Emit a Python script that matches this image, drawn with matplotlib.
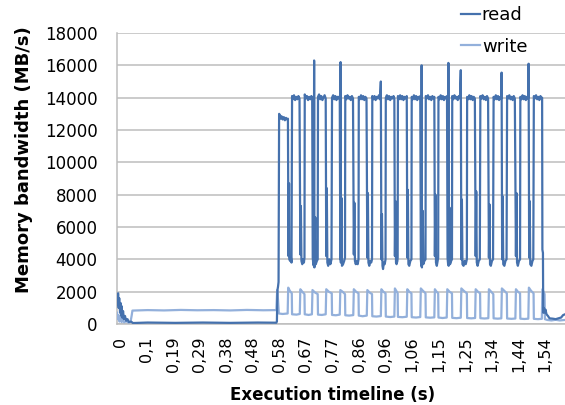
import numpy as np
import matplotlib
matplotlib.use("Agg")
import matplotlib.pyplot as plt

# Memory bandwidth trace: (time in s, MB/s)
read_idle = [
    (-0.011, 1800), (-0.009, 1200), (-0.007, 1900), (-0.005, 1000), (-0.003, 1600),
    (0.000, 700), (0.002, 1300), (0.004, 500), (0.006, 1100), (0.008, 400),
    (0.011, 800), (0.014, 300), (0.018, 500), (0.022, 200), (0.027, 300),
    (0.032, 120), (0.040, 150), (0.047, 60), (0.100, 90), (0.200, 70),
    (0.300, 90), (0.400, 70), (0.500, 90), (0.567, 80), (0.569, 160),
    (0.571, 2100), (0.573, 2300), (0.575, 2600),
]
read_burst = [
    # cycle 1
    (0.577, 13000), (0.580, 12900), (0.583, 12700), (0.586, 12850), (0.590, 12650),
    (0.594, 12800), (0.598, 12600), (0.602, 12750), (0.606, 12650), (0.609, 12700),
    (0.611, 4200), (0.613, 8700), (0.614, 4000), (0.617, 3900), (0.620, 4100), (0.622, 3800),
    # cycle 2
    (0.624, 14100), (0.627, 13900), (0.631, 14150), (0.635, 13850), (0.639, 14050),
    (0.643, 13900), (0.647, 14100), (0.651, 13950),
    (0.654, 4300), (0.656, 7300), (0.658, 3900), (0.661, 3700), (0.664, 4000), (0.667, 3800), (0.669, 4100),
    # cycle 3
    (0.670, 14200), (0.674, 13950), (0.678, 14100), (0.682, 13850), (0.686, 14050),
    (0.690, 13900), (0.694, 14100), (0.697, 14000),
    (0.699, 4100), (0.701, 3700), (0.703, 3600), (0.704, 16300), (0.705, 3500),
    (0.708, 6600), (0.710, 3700), (0.714, 3900), (0.717, 4000),
    # cycle 4
    (0.718, 14050), (0.722, 14200), (0.726, 13900), (0.730, 14100), (0.734, 13850),
    (0.738, 14000), (0.742, 14150), (0.746, 13950),
    (0.748, 4200), (0.750, 8400), (0.752, 3800), (0.755, 3600), (0.759, 4000), (0.763, 3700), (0.767, 4000),
    # cycle 5
    (0.769, 14000), (0.773, 14150), (0.777, 13900), (0.781, 14100), (0.785, 13850),
    (0.789, 14050), (0.793, 13950), (0.797, 14100),
    (0.799, 4000), (0.800, 16200), (0.801, 3800), (0.803, 7800), (0.805, 3600),
    (0.809, 3700), (0.813, 3900), (0.816, 4100),
    # cycle 6
    (0.817, 14100), (0.821, 13900), (0.825, 14150), (0.829, 13950), (0.833, 14050),
    (0.837, 13850), (0.841, 14100), (0.845, 13950),
    (0.848, 4300), (0.850, 7500), (0.852, 3900), (0.855, 3700), (0.859, 3900), (0.862, 3700), (0.865, 4000),
    # cycle 7
    (0.866, 14050), (0.870, 13900), (0.874, 14150), (0.878, 13900), (0.882, 14100),
    (0.886, 13850), (0.890, 14050), (0.894, 13950),
    (0.897, 4100), (0.899, 8100), (0.901, 3800), (0.904, 3600), (0.908, 3900), (0.911, 3800), (0.914, 4000),
    # cycle 8
    (0.915, 14100), (0.919, 13900), (0.923, 14100), (0.927, 13850), (0.931, 14050),
    (0.935, 13950), (0.939, 14150), (0.943, 13900), (0.946, 15000),
    (0.948, 4000), (0.950, 6800), (0.952, 3600), (0.954, 3400), (0.957, 3800), (0.960, 3700), (0.963, 4000),
    # cycle 9
    (0.964, 14000), (0.968, 14150), (0.972, 13900), (0.976, 14100), (0.980, 13850),
    (0.984, 14050), (0.988, 13950), (0.992, 14100), (0.995, 13950),
    (0.997, 4200), (0.999, 7600), (1.001, 3800), (1.003, 3700), (1.006, 3900), (1.007, 4100),
    # cycle 10
    (1.008, 14100), (1.012, 13900), (1.016, 14150), (1.020, 13900), (1.024, 14100),
    (1.028, 13850), (1.032, 14050), (1.036, 13950), (1.040, 14100),
    (1.042, 4100), (1.044, 8300), (1.046, 3700), (1.049, 3600), (1.053, 3900), (1.057, 4000),
    # cycle 11
    (1.058, 14050), (1.062, 13900), (1.066, 14150), (1.070, 13900), (1.074, 14100),
    (1.078, 13850), (1.082, 14050), (1.086, 13950), (1.089, 14100),
    (1.091, 4000), (1.093, 3600), (1.094, 16000), (1.095, 3500), (1.098, 7000),
    (1.100, 3700), (1.104, 3900), (1.108, 4000),
    # cycle 12
    (1.109, 14100), (1.113, 13950), (1.117, 14150), (1.121, 13900), (1.125, 14050),
    (1.129, 13850), (1.133, 14100), (1.137, 13950), (1.140, 14050),
    (1.142, 4200), (1.144, 8000), (1.146, 3800), (1.149, 3600), (1.152, 3900), (1.154, 4100),
    # cycle 13
    (1.155, 14050), (1.159, 13900), (1.163, 14150), (1.167, 13900), (1.171, 14100),
    (1.175, 13850), (1.179, 14050), (1.183, 13950), (1.186, 14100),
    (1.188, 4100), (1.190, 3700), (1.191, 16150), (1.192, 3600), (1.195, 7200),
    (1.197, 3700), (1.201, 3900), (1.204, 4000),
    # cycle 14
    (1.205, 14100), (1.209, 13900), (1.213, 14150), (1.217, 13950), (1.221, 14050),
    (1.225, 13850), (1.229, 14100), (1.233, 13950), (1.236, 15700),
    (1.238, 4000), (1.240, 7700), (1.242, 3700), (1.246, 3600), (1.250, 3900), (1.254, 3700), (1.258, 4000),
    # cycle 15
    (1.259, 14050), (1.263, 13900), (1.267, 14150), (1.271, 13900), (1.275, 14100),
    (1.279, 13850), (1.283, 14050), (1.287, 13950),
    (1.290, 4200), (1.292, 8200), (1.294, 3800), (1.297, 3600), (1.301, 3900), (1.305, 4000),
    # cycle 16
    (1.307, 14100), (1.311, 13950), (1.315, 14150), (1.319, 13900), (1.323, 14050),
    (1.327, 13850), (1.331, 14100), (1.335, 13950),
    (1.338, 4100), (1.340, 7400), (1.342, 3700), (1.345, 3600), (1.349, 3900), (1.353, 4000),
    # cycle 17
    (1.355, 14050), (1.359, 13900), (1.363, 14150), (1.367, 13900), (1.371, 14100),
    (1.375, 13850), (1.379, 14050), (1.383, 13950), (1.384, 15550),
    (1.386, 4000), (1.388, 7900), (1.390, 3700), (1.394, 3600), (1.398, 3900), (1.402, 4000),
    # cycle 18
    (1.404, 14100), (1.408, 13950), (1.412, 14150), (1.416, 13900), (1.420, 14050),
    (1.424, 13850), (1.428, 14100), (1.432, 13950),
    (1.436, 4200), (1.438, 8100), (1.440, 3800), (1.443, 3600), (1.447, 3900), (1.451, 4000),
    # cycle 19
    (1.452, 14050), (1.456, 13900), (1.460, 14150), (1.464, 13900), (1.468, 14100),
    (1.472, 13850), (1.476, 14050), (1.480, 13950), (1.482, 16100),
    (1.484, 4100), (1.486, 7600), (1.488, 3700), (1.492, 3600), (1.496, 3900), (1.499, 4000),
    # cycle 20
    (1.501, 14100), (1.505, 13950), (1.509, 14150), (1.513, 13900), (1.517, 14050),
    (1.521, 13850), (1.525, 14100), (1.529, 13950), (1.531, 14000),
]
read_tail = [
    (1.532, 4600), (1.534, 4400), (1.535, 700), (1.537, 1000), (1.540, 700),
    (1.543, 900), (1.547, 600), (1.552, 500), (1.558, 350), (1.570, 330),
    (1.580, 300), (1.590, 350), (1.600, 400), (1.607, 550), (1.614, 600),
]

write_idle = [
    (-0.011, 700), (-0.008, 300), (-0.005, 550), (-0.002, 150), (0.002, 400),
    (0.006, 120), (0.010, 300), (0.015, 100), (0.022, 180), (0.030, 90),
    (0.038, 120), (0.042, 500), (0.045, 830), (0.100, 860), (0.160, 840),
    (0.220, 870), (0.280, 850), (0.340, 860), (0.400, 840), (0.460, 870),
    (0.520, 850), (0.567, 860), (0.570, 2100), (0.573, 1500), (0.576, 650),
    (0.590, 620), (0.608, 650),
]
write_burst = [
    (0.610, 2250), (0.616, 2050), (0.623, 1900), (0.624, 600), (0.640, 580), (0.652, 620),
    (0.654, 2150), (0.661, 2000), (0.669, 1850), (0.670, 600), (0.684, 560), (0.696, 600),
    (0.698, 2100), (0.707, 1950), (0.717, 1850), (0.718, 580), (0.732, 560), (0.746, 600),
    (0.748, 2150), (0.757, 2000), (0.768, 1900), (0.769, 560), (0.783, 540), (0.797, 580),
    (0.799, 2100), (0.807, 2000), (0.816, 1850), (0.817, 540), (0.831, 520), (0.846, 550),
    (0.848, 2150), (0.856, 2000), (0.865, 1900), (0.866, 520), (0.880, 480), (0.895, 520),
    (0.897, 2100), (0.905, 1950), (0.914, 1850), (0.915, 480), (0.930, 460), (0.946, 490),
    (0.948, 2150), (0.955, 2000), (0.963, 1900), (0.964, 460), (0.980, 430), (0.995, 460),
    (0.997, 2200), (1.002, 2050), (1.007, 1900), (1.008, 440), (1.024, 420), (1.040, 450),
    (1.042, 2150), (1.049, 2000), (1.057, 1900), (1.058, 420), (1.074, 400), (1.089, 430),
    (1.091, 2200), (1.099, 2050), (1.108, 1900), (1.109, 410), (1.125, 390), (1.140, 410),
    (1.142, 2150), (1.148, 2000), (1.154, 1900), (1.155, 400), (1.170, 370), (1.185, 400),
    (1.187, 2150), (1.195, 2000), (1.204, 1900), (1.205, 380), (1.221, 360), (1.236, 390),
    (1.238, 2200), (1.247, 2050), (1.258, 1900), (1.259, 370), (1.274, 350), (1.288, 370),
    (1.290, 2150), (1.298, 2000), (1.306, 1900), (1.307, 360), (1.322, 340), (1.336, 360),
    (1.338, 2150), (1.346, 2000), (1.354, 1850), (1.355, 350), (1.370, 330), (1.383, 350),
    (1.385, 2200), (1.394, 2050), (1.403, 1900), (1.404, 340), (1.420, 320), (1.434, 340),
    (1.436, 2150), (1.443, 2000), (1.451, 1900), (1.452, 330), (1.467, 310), (1.481, 330),
    (1.483, 2250), (1.491, 2050), (1.500, 1900), (1.501, 320), (1.516, 300), (1.530, 320),
    (1.532, 2150), (1.536, 2000), (1.540, 1850), (1.541, 300), (1.550, 250),
    (1.565, 220), (1.580, 260), (1.595, 220), (1.614, 250),
]

tick_labels = ["0", "0,1", "0,19", "0,29", "0,38", "0,48", "0,58", "0,67", "0,77",
               "0,86", "0,96", "1,06", "1,15", "1,25", "1,34", "1,44", "1,54"]
label_step = 0.09634  # time between consecutive category labels (s)
y_ticks = list(range(0, 18001, 2000))

read_t, read_v = zip(*(read_idle + read_burst + read_tail))
write_t, write_v = zip(*(write_idle + write_burst))

READ_COLOR = "#4571AD"
WRITE_COLOR = "#93B0DB"
GRID_COLOR = "#BDBDBD"

fig = plt.figure(figsize=(5.65, 4.05), dpi=100)
ax = fig.add_axes([117 / 565, 81 / 405, 448 / 565, 291 / 405])

ax.plot(write_t, write_v, color=WRITE_COLOR, lw=1.6, label="write", zorder=3)
ax.plot(read_t, read_v, color=READ_COLOR, lw=1.6, label="read", zorder=4)

ax.set_xlim(-0.011, 1.614)
ax.set_ylim(0, 18000)
ax.set_yticks(y_ticks)
ax.set_yticklabels([str(v) for v in y_ticks])
ax.set_xticks(np.arange(len(tick_labels)) * label_step)
ax.set_xticklabels(tick_labels, rotation=90, va="top", ha="center")

ax.grid(axis="y", color=GRID_COLOR, lw=1.1)
ax.set_axisbelow(True)
for side in ("top", "right"):
    ax.spines[side].set_visible(False)
for side in ("left", "bottom"):
    ax.spines[side].set_color(GRID_COLOR)
    ax.spines[side].set_linewidth(1.1)
ax.tick_params(axis="both", length=0, labelsize=12, colors="black")
ax.tick_params(axis="y", pad=14)
ax.tick_params(axis="x", pad=9, labelsize=11.5)

fig.text(24 / 565, 1 - 160 / 405, "Memory bandwidth (MB/s)", rotation=90,
         ha="center", va="center", fontsize=13, fontweight="bold")
fig.text(333 / 565, 1 - 395 / 405, "Execution timeline (s)",
         ha="center", va="center", fontsize=12, fontweight="bold")

h_read, = [l for l in ax.lines if l.get_label() == "read"]
h_write, = [l for l in ax.lines if l.get_label() == "write"]
fig.legend([h_read, h_write], ["read", "write"], loc="upper left",
           bbox_to_anchor=(461 / 565, 1 - 6 / 405), frameon=False, fontsize=13,
           handlelength=1.05, handletextpad=0.1, labelspacing=0.75,
           borderpad=0, borderaxespad=0)

fig.savefig("out.png", dpi=100)
